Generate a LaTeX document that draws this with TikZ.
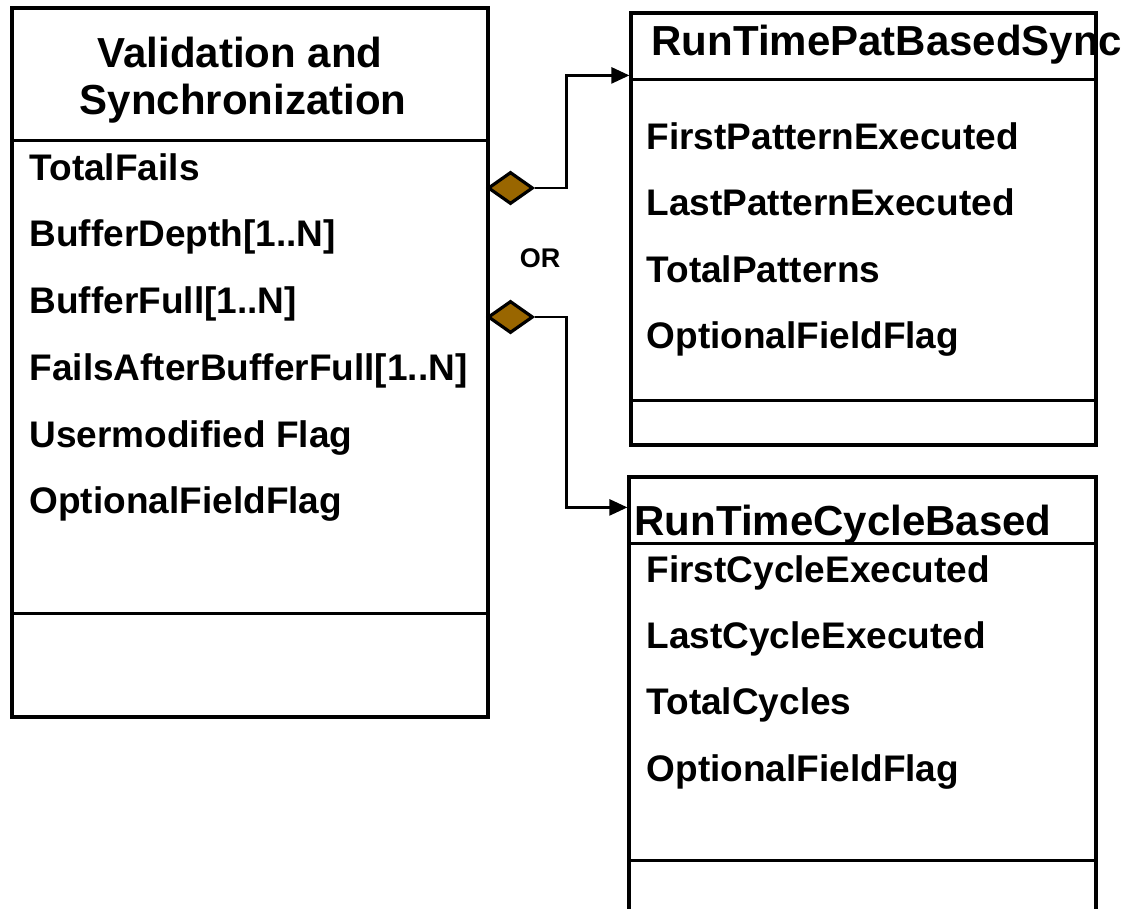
\documentclass[tikz,border=0pt]{standalone}
\usepackage{fontspec}
\setmainfont{Liberation Sans}
\usetikzlibrary{shapes.geometric,arrows.meta}
\definecolor{aggbrown}{RGB}{153,102,0}

\begin{document}
\begin{tikzpicture}[x=1pt,y=-1pt,line width=3.2pt,
  classbox/.style={draw,rectangle,inner sep=0pt},
  agg/.style={draw,diamond,fill=aggbrown,inner sep=0pt,minimum width=45pt,minimum height=32pt},
  attr/.style={anchor=base west,inner sep=0pt,font=\bfseries\fontsize{37}{40}\selectfont},
  ttl/.style={inner sep=0pt,font=\bfseries\fontsize{42}{50}\selectfont},
  link/.style={-{Triangle[length=18pt,width=16pt]},line width=2.6pt}]
\clip (0,0) rectangle (1129,908);
\node[classbox,minimum width=476,minimum height=709] (vs) at (250,362.5) {};
\node[classbox,minimum width=465,minimum height=432] (pat) at (863.5,229) {};
\node[classbox,minimum width=467,minimum height=453] (cyc) at (862.5,703.5) {};
\draw ([yshift=-134]vs.north west) -- ([yshift=-134]vs.north east);
\draw ([yshift=105]vs.south west) -- ([yshift=105]vs.south east);
\draw ([yshift=-68]pat.north west) -- ([yshift=-68]pat.north east);
\draw ([yshift=46]pat.south west) -- ([yshift=46]pat.south east);
\draw ([yshift=-68]cyc.north west) -- ([yshift=-68]cyc.north east);
\draw ([yshift=-385]cyc.north west) -- ([yshift=-385]cyc.north east);
\node[ttl,anchor=base] (vt1) at (240,67) {Validation and};
\node[ttl,anchor=base] (vt2) at (243,114) {Synchronization};
\node[ttl,anchor=base west] (pt) at (650,55) {RunTimePatBasedSync};
\node[ttl,anchor=base west] (ct) at (633,535) {RunTimeCycleBased};
\node[attr] (a1) at (28,180) {TotalFails};
\node[attr] (a2) at (28,246.5) {BufferDepth[1..N]};
\node[attr] (a3) at (28,313) {BufferFull[1..N]};
\node[attr] (a4) at (28,380) {FailsAfterBufferFull[1..N]};
\node[attr] (a5) at (28,447) {Usermodified Flag};
\node[attr] (a6) at (28,513) {OptionalFieldFlag};
\node[attr] (p1) at (645,149) {FirstPatternExecuted};
\node[attr] (p2) at (645,215) {LastPatternExecuted};
\node[attr] (p3) at (645,282) {TotalPatterns};
\node[attr] (p4) at (645,348) {OptionalFieldFlag};
\node[attr] (c1) at (645,582) {FirstCycleExecuted};
\node[attr] (c2) at (645,648) {LastCycleExecuted};
\node[attr] (c3) at (645,714) {TotalCycles};
\node[attr] (c4) at (645,781) {OptionalFieldFlag};
\node[anchor=base,inner sep=0pt,font=\bfseries\fontsize{27}{30}\selectfont] (or) at (540,267) {OR};
\node[agg] (d1) at (510.5,188) {};
\node[agg] (d2) at (510.5,317) {};
\draw[link] (d1.east) -- ++(32,0) |- ([yshift=-64]pat.north west);
\draw[link] (d2.east) -- ++(32,0) |- ([yshift=-32]cyc.north west);
\end{tikzpicture}
\end{document}
